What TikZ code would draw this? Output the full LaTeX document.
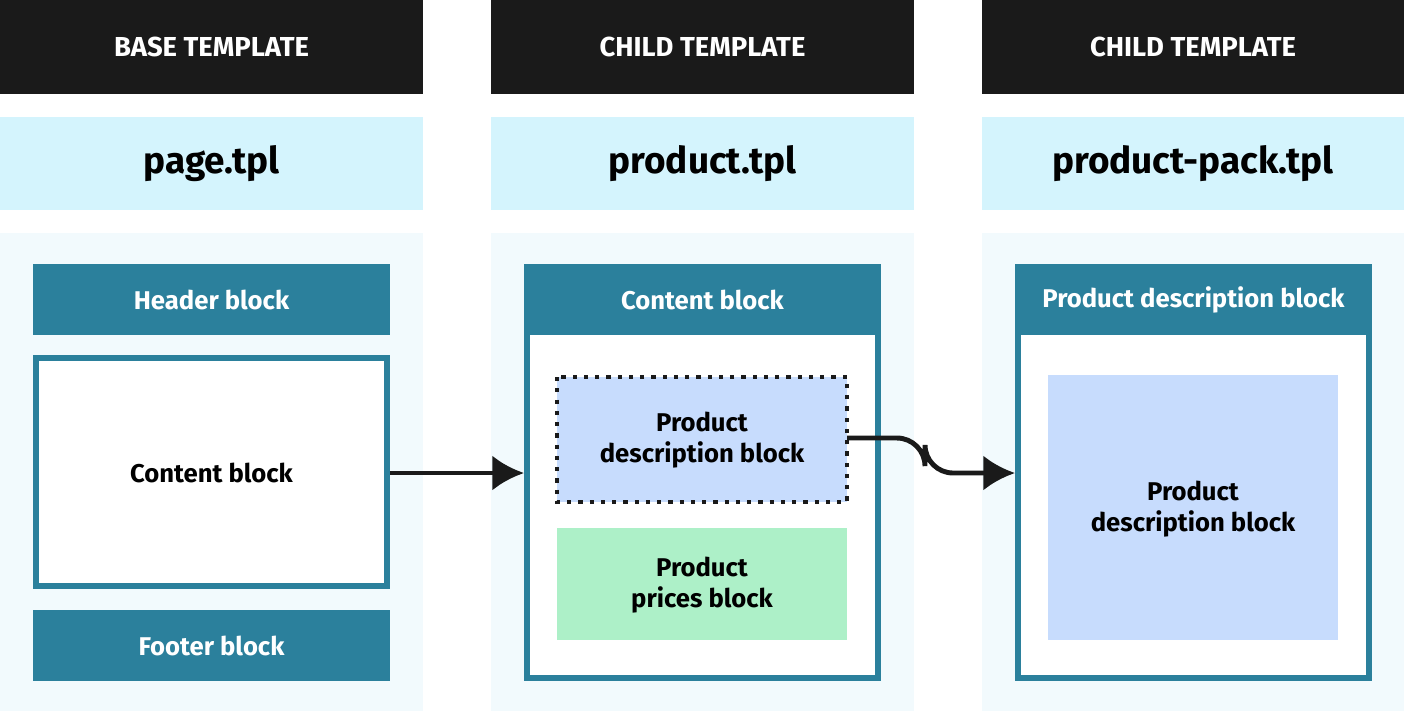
\documentclass[tikz,border=0pt]{standalone}
\usepackage{fontspec}
\setmainfont{Fira Sans}
\usetikzlibrary{positioning}
\definecolor{headblack}{HTML}{1A1A1A}
\definecolor{namecyan}{HTML}{D4F4FD}
\definecolor{panelbg}{HTML}{F2FAFD}
\definecolor{blockteal}{HTML}{2B809C}
\definecolor{descblue}{HTML}{C7DCFD}
\definecolor{pricegreen}{HTML}{ADF0C8}
\tikzset{
  colhead/.style={fill=headblack,text=white,font=\bfseries\fontsize{7.8}{9}\selectfont},
  colname/.style={fill=namecyan,text=black,font=\bfseries\fontsize{10.5}{12}\selectfont},
  tealbar/.style={fill=blockteal,text=white,font=\bfseries\fontsize{7.3}{9}\selectfont},
  outline/.style={draw=blockteal,line width=1.7pt,fill=white},
  blocktext/.style={font=\bfseries\fontsize{7.3}{9}\selectfont,align=center},
  link/.style={draw=headblack,line width=1.4pt,-{Latex[length=9pt,width=10pt]}}
}
\usetikzlibrary{arrows.meta}
\begin{document}
\begin{tikzpicture}[x=0.01cm,y=-0.01cm]
  \useasboundingbox (0,0) rectangle (1404,711);
  % three columns
  \foreach \x/\w/\kind/\file in {0/423/BASE TEMPLATE/page.tpl,491/423/CHILD TEMPLATE/product.tpl,982/422/CHILD TEMPLATE/product-pack.tpl}{
    \fill[headblack] (\x,0) rectangle ++(\w,94);
    \node[text=white,font=\bfseries\fontsize{7.8}{9}\selectfont] at (\x+\w/2,47) {\kind};
    \fill[namecyan] (\x,117) rectangle ++(\w,93);
    \node[font=\bfseries\fontsize{10.5}{12}\selectfont] at (\x+\w/2,164) {\file};
    \fill[panelbg] (\x,233) rectangle ++(\w,478);
  }
  % page.tpl
  \fill[blockteal] (33,264) rectangle (390,335);
  \node[tealbar] (header) at (211.5,300) {Header block};
  \draw[outline] (36,358) rectangle (387,586);
  \node[blocktext] (content) at (211.5,473) {Content block};
  \coordinate (contentR) at (390,473);
  \fill[blockteal] (33,610) rectangle (390,681);
  \node[tealbar] (footer) at (211.5,646) {Footer block};
  % product.tpl
  \draw[outline] (527,267) rectangle (878,678);
  \fill[blockteal] (524,264) rectangle (881,335);
  \node[tealbar] (content2) at (702.5,300) {Content block};
  \coordinate (child1L) at (524,473);
  \draw[fill=descblue,draw=headblack,line width=1.2pt,dotted] (557,377) rectangle (847,502);
  \node[blocktext] (desc) at (702,440) {Product\\description block};
  \coordinate (descR) at (847,438);
  \fill[pricegreen] (557,528) rectangle (847,640);
  \node[blocktext] (prices) at (702,585) {Product\\prices block};
  % product-pack.tpl
  \draw[outline] (1018,267) rectangle (1369,678);
  \fill[blockteal] (1015,264) rectangle (1372,335);
  \node[tealbar] (desc2) at (1193.5,300) {Product description block};
  \coordinate (child2L) at (1015,473);
  \fill[descblue] (1048,375) rectangle (1338,640);
  \node[blocktext] (desc3) at (1193,509) {Product\\description block};
  % links
  \draw[link] (contentR) -- (child1L);
  \draw[link,rounded corners=8pt] (descR) -- (925,438) -- (925,473) -- (child2L);
\end{tikzpicture}
\end{document}
